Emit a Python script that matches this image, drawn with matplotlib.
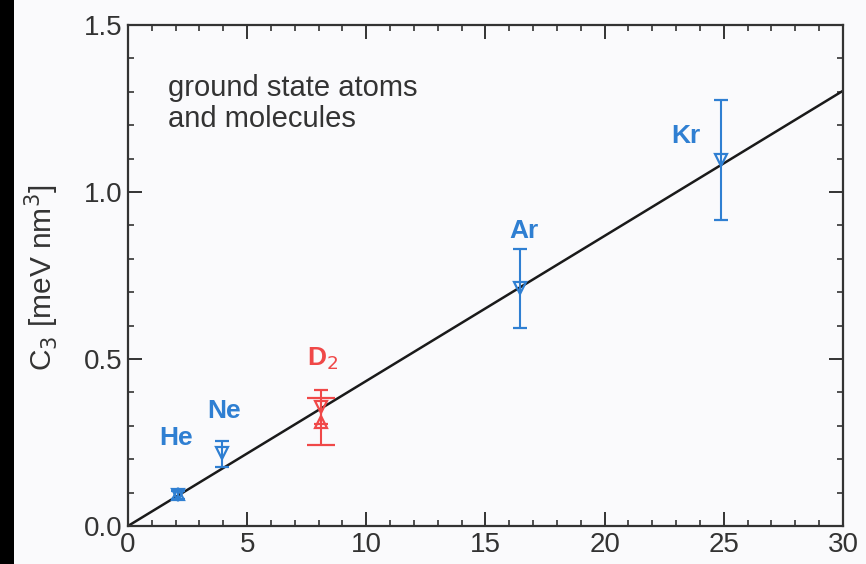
import matplotlib.pyplot as plt
from matplotlib.patches import Rectangle
from matplotlib.ticker import MultipleLocator

plt.rcParams['font.family'] = ['Liberation Sans', 'DejaVu Sans']

# polarizability-like x values and measured C3 (meV nm^3)
atoms = ['He', 'Ne', 'Ar', 'Kr']
x_atoms = [2.1, 3.95, 16.45, 24.9]
c3_down = [0.093, 0.22, 0.712, 1.096]
err_lo = [0.013, 0.043, 0.119, 0.180]
err_hi = [0.013, 0.035, 0.117, 0.179]
he_up = 0.095

x_d2 = 8.1
d2_down, d2_down_err = 0.356, 0.05
d2_up, d2_up_err = 0.312, 0.07

fit_x = [0, 30]
fit_y = [0, 1.303]

lab_x = [2.0, 4.05, 16.6, 23.4]
lab_y = [0.263, 0.344, 0.883, 1.168]

blue = '#2f7fd2'
red = '#f04848'

fig = plt.figure(figsize=(8.66, 5.64), dpi=100)
fig.patch.set_facecolor('#fafafc')
fig.patches.append(Rectangle((0, 0), 14 / 866, 1, transform=fig.transFigure,
                             facecolor='black', edgecolor='none', zorder=10))
ax = fig.add_axes([0.1478, 0.0674, 0.8256, 0.8883])
ax.set_facecolor('none')

ax.plot(fit_x, fit_y, color='#1a1a1a', lw=1.8, zorder=2)

ax.errorbar(x_atoms, c3_down, yerr=[err_lo, err_hi], fmt='v', ms=9,
            mfc='none', mec=blue, mew=1.6, ecolor=blue, elinewidth=1.5,
            capsize=5, capthick=1.5, zorder=3)
ax.plot([x_atoms[0]], [he_up], '^', ms=9, mfc='none', mec=blue, mew=1.6, zorder=3)

ax.errorbar([x_d2], [d2_down], yerr=d2_down_err, fmt='v', ms=9, mfc='none',
            mec=red, mew=1.6, ecolor=red, elinewidth=1.5, capsize=5,
            capthick=1.5, zorder=3)
ax.errorbar([x_d2], [d2_up], yerr=d2_up_err, fmt='^', ms=9, mfc='none',
            mec=red, mew=1.6, ecolor=red, elinewidth=1.5, capsize=10,
            capthick=1.5, zorder=3)

for name, lx, ly in zip(atoms, lab_x, lab_y):
    ax.text(lx, ly, name, color=blue, fontsize=19, fontweight='bold',
            ha='center', va='center')
ax.text(8.15, 0.50, 'D$_2$', color=red, fontsize=19, fontweight='bold',
        ha='center', va='center')

ax.text(1.68, 1.286, 'ground state atoms', fontsize=21, color='#333333',
        va='baseline', ha='left')
ax.text(1.68, 1.196, 'and molecules', fontsize=21, color='#333333',
        va='baseline', ha='left')

ax.set_xlim(0, 30)
ax.set_ylim(0, 1.5)
ax.xaxis.set_major_locator(MultipleLocator(5))
ax.xaxis.set_minor_locator(MultipleLocator(1))
ax.yaxis.set_major_locator(MultipleLocator(0.5))
ax.yaxis.set_minor_locator(MultipleLocator(0.1))
ax.yaxis.set_major_formatter(plt.FormatStrFormatter('%.1f'))
ax.tick_params(which='both', direction='in', top=True, right=True,
               labelsize=20, colors='#333333')
ax.tick_params(which='major', length=10, width=1.4, pad=4)
ax.tick_params(which='minor', length=4.5, width=1.2)
for s in ax.spines.values():
    s.set_linewidth(1.6)
    s.set_color('#333333')

fig.text(42 / 866, 1 - 278 / 564, 'C$_3$ [meV nm$^3$]', rotation=90,
         ha='center', va='center', fontsize=21.5, color='#333333')

fig.savefig('out.png', dpi=100, facecolor=fig.get_facecolor())
